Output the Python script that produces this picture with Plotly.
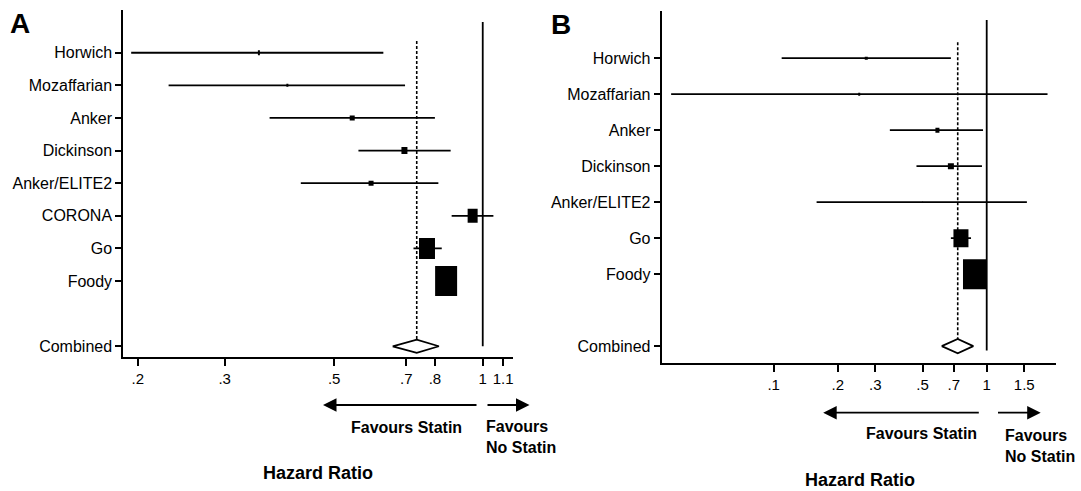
import math
import plotly.graph_objects as go

# ---------------- data ----------------
studies_a = ["Horwich", "Mozaffarian", "Anker", "Dickinson", "Anker/ELITE2", "CORONA", "Go", "Foody"]
hr_a = [0.352, 0.402, 0.544, 0.694, 0.594, 0.954, 0.771, 0.843]
lo_a = [0.194, 0.231, 0.370, 0.560, 0.428, 0.865, 0.724, 0.810]
hi_a = [0.629, 0.696, 0.800, 0.861, 0.813, 1.051, 0.826, 0.875]
combined_a = [0.735, 0.657, 0.815]  # estimate, lower, upper
ticks_a = [0.2, 0.3, 0.5, 0.7, 0.8, 1, 1.1]
ticktext_a = [".2", ".3", ".5", ".7", ".8", "1", "1.1"]

studies_b = ["Horwich", "Mozaffarian", "Anker", "Dickinson", "Anker/ELITE2", "Go", "Foody"]
hr_b = [0.272, 0.252, 0.587, 0.679, 0.500, 0.757, 0.881]
lo_b = [0.109, 0.033, 0.351, 0.468, 0.159, 0.679, 0.820]
hi_b = [0.679, 1.930, 0.961, 0.950, 1.544, 0.844, 0.950]
combined_b = [0.731, 0.615, 0.865]
ticks_b = [0.1, 0.2, 0.3, 0.5, 0.7, 1, 1.5]
ticktext_b = [".1", ".2", ".3", ".5", ".7", "1", "1.5"]

# ---------------- styles (box width px, box height px) ----------------
box_w_a = [2, 2, 5, 6, 5, 10, 16, 22]
box_h_a = [5, 3, 5, 7, 5, 14, 21, 30]
box_w_b = [3, 2, 4, 6, 1, 15, 24]
box_h_b = [3, 3, 5, 6, 1, 18, 30]

FONT = "Arial, Liberation Sans, sans-serif"
W, H = 1081, 491

fig = go.Figure()
annotations = []


def panel(xa, ya, names, hr, lo, hi, comb, bw, bh, px_per_row, yrange, xrange_, tv, tt,
          xdom, ydom, solid_y, dot_y):
    n = len(names)
    ypos = list(range(n))
    comb_y = n + 1
    xs, ys = [], []
    for i in range(n):
        xs += [lo[i], hi[i], None]
        ys += [ypos[i], ypos[i], None]
    fig.add_trace(go.Scatter(x=xs, y=ys, mode="lines", xaxis=xa, yaxis=ya,
                             line=dict(color="black", width=1.8),
                             hoverinfo="skip", showlegend=False))
    # reference lines
    fig.add_trace(go.Scatter(x=[1, 1], y=solid_y, mode="lines", xaxis=xa, yaxis=ya,
                             line=dict(color="black", width=1.8),
                             hoverinfo="skip", showlegend=False))
    fig.add_trace(go.Scatter(x=[comb[0], comb[0]], y=dot_y, mode="lines", xaxis=xa, yaxis=ya,
                             line=dict(color="black", width=1.6, dash="3px,2px"),
                             hoverinfo="skip", showlegend=False))
    # combined diamond
    dh = 0.2
    fig.add_trace(go.Scatter(x=[comb[1], comb[0], comb[2], comb[0], comb[1]],
                             y=[comb_y, comb_y - dh, comb_y, comb_y + dh, comb_y],
                             mode="lines", fill="toself", fillcolor="white",
                             xaxis=xa, yaxis=ya,
                             line=dict(color="black", width=1.8),
                             hoverinfo="skip", showlegend=False))
    # study boxes: thick vertical strokes (width = box width in px)
    for i in range(n):
        hh = bh[i] / px_per_row / 2
        fig.add_trace(go.Scatter(x=[hr[i], hr[i]], y=[ypos[i] - hh, ypos[i] + hh],
                                 mode="lines", xaxis=xa, yaxis=ya,
                                 line=dict(color="black", width=bw[i]),
                                 hoverinfo="skip", showlegend=False))
    axis_x = dict(type="log", range=[math.log10(xrange_[0]), math.log10(xrange_[1])],
                  tickmode="array", tickvals=tv, ticktext=tt,
                  ticks="outside", ticklen=7, tickwidth=2, tickcolor="black",
                  showline=True, linewidth=2, linecolor="black",
                  showgrid=False, zeroline=False, domain=xdom,
                  tickfont=dict(family=FONT, size=15, color="black"))
    axis_y = dict(range=yrange, tickmode="array",
                  tickvals=ypos + [comb_y], ticktext=names + ["Combined"],
                  ticks="outside", ticklen=6, tickwidth=2, tickcolor="black",
                  showline=True, linewidth=2, linecolor="black",
                  showgrid=False, zeroline=False, domain=ydom,
                  tickfont=dict(family=FONT, size=16, color="black"))
    return axis_x, axis_y


xA, yA = panel("x", "y", studies_a, hr_a, lo_a, hi_a, combined_a, box_w_a, box_h_a, 32.6,
               [9.32, -1.31], [0.187, 1.150], ticks_a, ticktext_a,
               [123.3 / W, 512.7 / W], [1 - 356.7 / H, 1 - 10 / H],
               [-0.94, 9.0], [-0.36, 8.8])
xB, yB = panel("x2", "y2", studies_b, hr_b, lo_b, hi_b, combined_b, box_w_b, box_h_b, 36.0,
               [8.46, -1.32], [0.0298, 2.115], ticks_b, ticktext_b,
               [661.7 / W, 1056 / W], [1 - 362.7 / H, 1 - 10.7 / H],
               [-1.06, 8.12], [-0.44, 7.8])
yB["anchor"] = "x2"
xB["anchor"] = "y2"


def txt(x, y, s, size=16, bold=True, xanchor="center", align="center"):
    annotations.append(dict(xref="paper", yref="paper", x=x / W, y=1 - y / H,
                            text=("<b>%s</b>" % s) if bold else s, showarrow=False,
                            xanchor=xanchor, yanchor="middle", align=align,
                            font=dict(family=FONT, size=size, color="black")))


def arrow(head_x, tail_x, y):
    annotations.append(dict(xref="paper", yref="paper", x=head_x / W, y=1 - y / H,
                            ax=tail_x - head_x, ay=0, text="", showarrow=True,
                            arrowhead=2, arrowsize=1.5, arrowwidth=1.8,
                            arrowcolor="black", standoff=0, startstandoff=0))


# Panel A texts
txt(19.5, 23.5, "A", size=28)
arrow(323, 478, 405)
arrow(529.5, 486, 405)
txt(406, 427.3, "Favours Statin")
txt(484, 436.7, "Favours<br>No Statin", xanchor="left", align="left")
txt(318, 473.3, "Hazard Ratio", size=18)

# Panel B texts
txt(560.7, 24, "B", size=28)
arrow(823.2, 980.3, 412.7)
arrow(1040.7, 996.5, 412.7)
txt(921, 433.3, "Favours Statin")
txt(1002.7, 446.3, "Favours<br>No Statin", xanchor="left", align="left")
txt(859.5, 480, "Hazard Ratio", size=18)

fig.update_layout(width=W, height=H, margin=dict(l=0, r=0, t=0, b=0),
                  paper_bgcolor="white", plot_bgcolor="white",
                  xaxis=xA, yaxis=yA, xaxis2=xB, yaxis2=yB,
                  annotations=annotations,
                  font=dict(family=FONT, color="black"), showlegend=False)

fig.write_html("out.html")
